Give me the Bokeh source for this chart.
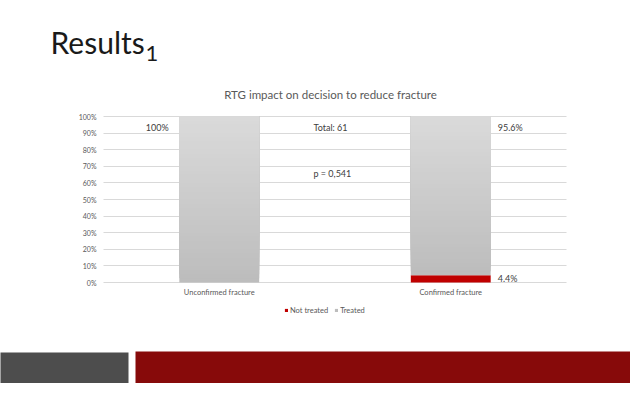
import numpy as np
from bokeh.plotting import figure
from bokeh.models import (Range1d, FixedTicker, NumeralTickFormatter, Label,
                          BoxAnnotation, Legend, LegendItem, ColumnDataSource)
from bokeh.core.properties import value
from bokeh.embed import file_html
from bokeh.resources import INLINE

# ---- data ----
categories = ["Unconfirmed fracture", "Confirmed fracture"]
not_treated = [0.0, 0.044]
treated = [1.0, 0.956]
label_not_treated = ["", "4.4%"]
label_treated = ["100%", "95.6%"]
y_ticks = [0.0, 0.1, 0.2, 0.3, 0.4, 0.5, 0.6, 0.7, 0.8, 0.9, 1.0]
chart_title = "RTG impact on decision to reduce fracture"
slide_title = "Results"
slide_sub = "1"
total_text = "Total: 61"
p_text = "p = 0,541"

FONT = "Lato"
GREY_TXT = "#595959"
DARK_TXT = "#404040"

# ---- geometry (pixels) ----
W, H = 630, 383
CL, CR, CT, CB = 103, 566, 116, 282          # chart area
ncat = len(categories)
xpos = [i + 0.5 for i in range(ncat)]
xu = ncat / (CR - CL)                         # data units per px
yu = 1.0 / (CB - CT)

p = figure(width=W, height=H, output_backend="svg", toolbar_location=None,
           x_range=Range1d(-CL * xu, (W - CL) * xu),
           y_range=Range1d(-(H - CB) * yu, CB * yu),
           min_border=0)
p.title = None
p.outline_line_color = None
p.background_fill_color = "white"
p.border_fill_color = "white"

# ---- bars ----
r_nt = p.vbar(x=xpos, bottom=0, top=not_treated, width=0.345,
              fill_color="#c00000", line_color=None)

N = 40
top_c = np.array([0xdb, 0xdb, 0xdb])
bot_c = np.array([0xbd, 0xbd, 0xbd])
xs, bots, tops, cols = [], [], [], []
for i in range(N):
    fr = i / N
    c = (bot_c + (top_c - bot_c) * fr).astype(int)
    col = "#%02x%02x%02x" % tuple(c)
    for xp, b, t in zip(xpos, not_treated, treated):
        xs.append(xp)
        bots.append(b + t * fr)
        tops.append(b + t)
        cols.append(col)
src = ColumnDataSource(dict(x=xs, bottom=bots, top=tops, color=cols))
r_t = p.vbar(x="x", bottom="bottom", top="top", width=0.345, fill_color="color",
             line_color=None, source=src)

# ---- axes (drawn at the chart edges) ----
p.yaxis.fixed_location = 0
p.xaxis.fixed_location = 0
p.yaxis.ticker = FixedTicker(ticks=y_ticks)
p.yaxis.formatter = NumeralTickFormatter(format="0%")
p.xaxis.ticker = FixedTicker(ticks=xpos)
p.xaxis.major_label_overrides = {xp: c for xp, c in zip(xpos, categories)}
for ax in (p.xaxis, p.yaxis):
    ax.axis_line_color = None
    ax.major_tick_line_color = None
    ax.minor_tick_line_color = None
    ax.major_tick_out = 0
    ax.major_tick_in = 0
    ax.minor_tick_out = 0
    ax.minor_tick_in = 0
    ax.major_label_text_font = FONT
    ax.major_label_text_color = GREY_TXT
p.yaxis.major_label_text_font_size = "7px"
p.xaxis.major_label_text_font_size = "7.5px"
p.yaxis.major_label_standoff = 7
p.xaxis.major_label_standoff = 5
p.xgrid.grid_line_color = None
try:
    p.ygrid.cross_bounds = (0, ncat)
    p.ygrid.ticker = FixedTicker(ticks=y_ticks)
    p.ygrid.grid_line_color = "#d9d9d9"
except Exception:
    p.ygrid.grid_line_color = None
    p.segment(x0=0, x1=ncat, y0=y_ticks, y1=y_ticks, line_color="#d9d9d9",
              line_width=1, level="underlay")

# ---- data labels ----
totals = [a + b for a, b in zip(not_treated, treated)]
TXT = dict(text_font=value(FONT), text_font_size="9px", text_color=DARK_TXT,
           text_baseline="middle")
p.text(x=[xpos[0]], y=[totals[0]], text=[label_treated[0]], x_offset=-62,
       y_offset=11, text_align="center", **TXT)
p.text(x=[xpos[1]], y=[totals[1]], text=[label_treated[1]], x_offset=47,
       y_offset=11, text_align="left", **TXT)
p.text(x=[xpos[1]], y=[not_treated[1] / 2], text=[label_not_treated[1]],
       x_offset=47, y_offset=0, text_align="left", **TXT)


def lab(text, X, Y, size, color, align="left", baseline="middle"):
    p.add_layout(Label(x=X, y=H - Y, x_units="screen", y_units="screen", text=text,
                       text_font=FONT, text_font_size=size, text_color=color,
                       text_align=align, text_baseline=baseline))


lab(total_text, 313, 127, "9px", DARK_TXT)
lab(p_text, 313, 173, "9px", DARK_TXT)
lab(chart_title, 330, 94, "11.5px", GREY_TXT, align="center")
lab(slide_title, 50, 41.5, "30px", "#1a1a1a")
lab(slide_sub, 145, 52.5, "22px", "#1a1a1a")

# ---- legend ----
legend = Legend(items=[LegendItem(label="Not treated", renderers=[r_nt]),
                       LegendItem(label="Treated", renderers=[r_t], index=0)],
                location=(284, H - 310 - 4.5), orientation="horizontal",
                glyph_width=4, glyph_height=4, label_text_font=FONT,
                label_text_font_size="7.5px", label_text_color=GREY_TXT,
                label_standoff=2, spacing=6, padding=0, margin=0,
                label_height=9, border_line_color=None, background_fill_alpha=0)
p.add_layout(legend, "center")

# ---- slide footer decoration ----
def box(l, r, t, b, color):
    p.add_layout(BoxAnnotation(left=l, right=r, top=H - t, bottom=H - b,
                               left_units="screen", right_units="screen",
                               top_units="screen", bottom_units="screen",
                               fill_color=color, fill_alpha=1, line_color=None))


box(-2, 128, 352, 395, "#4d4d4d")
box(135, W + 2, 351, 395, "#870a0a")

open("out.html", "w").write(file_html(p, INLINE))
